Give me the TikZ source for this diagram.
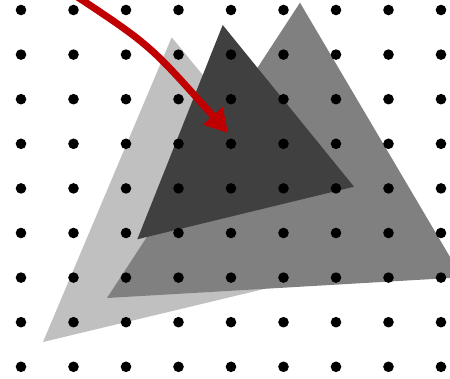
\documentclass[tikz,border=0pt]{standalone}
\usetikzlibrary{arrows.meta}
\definecolor{lightg}{HTML}{C0C0C0}
\definecolor{midg}{HTML}{808080}
\definecolor{darkg}{HTML}{404040}
\definecolor{arrowred}{HTML}{C00000}
\begin{document}
\begin{tikzpicture}[x=1pt,y=-1pt,
  tri/.style={draw=none},
  griddot/.style={fill=black},
  redarrow/.style={draw=arrowred,line width=7pt,-{Triangle[length=23pt,width=25pt]}}]
\useasboundingbox (0,0) rectangle (450,379);
\clip (0,0) rectangle (450,379);
% triangles
\fill[lightg,tri] (171.7,37.3) -- (43,342) -- (360,266) -- cycle;
\fill[midg,tri] (300,2.7) -- (107,298) -- (462,277.3) -- cycle;
\fill[darkg,tri] (222.7,25) -- (137.3,239.3) -- (354,186.7) -- cycle;
% dots
\foreach \i in {0,...,8}{
  \foreach \j in {0,...,8}{
    \fill[griddot] ({21+52.5*\i},{10+44.6*\j}) circle (5.3);
  }
}
% arrow
\coordinate (as) at (73,-6);
\coordinate (ae) at (228,133);
\draw[redarrow] (as) .. controls (150,45) .. (ae);
\end{tikzpicture}
\end{document}
